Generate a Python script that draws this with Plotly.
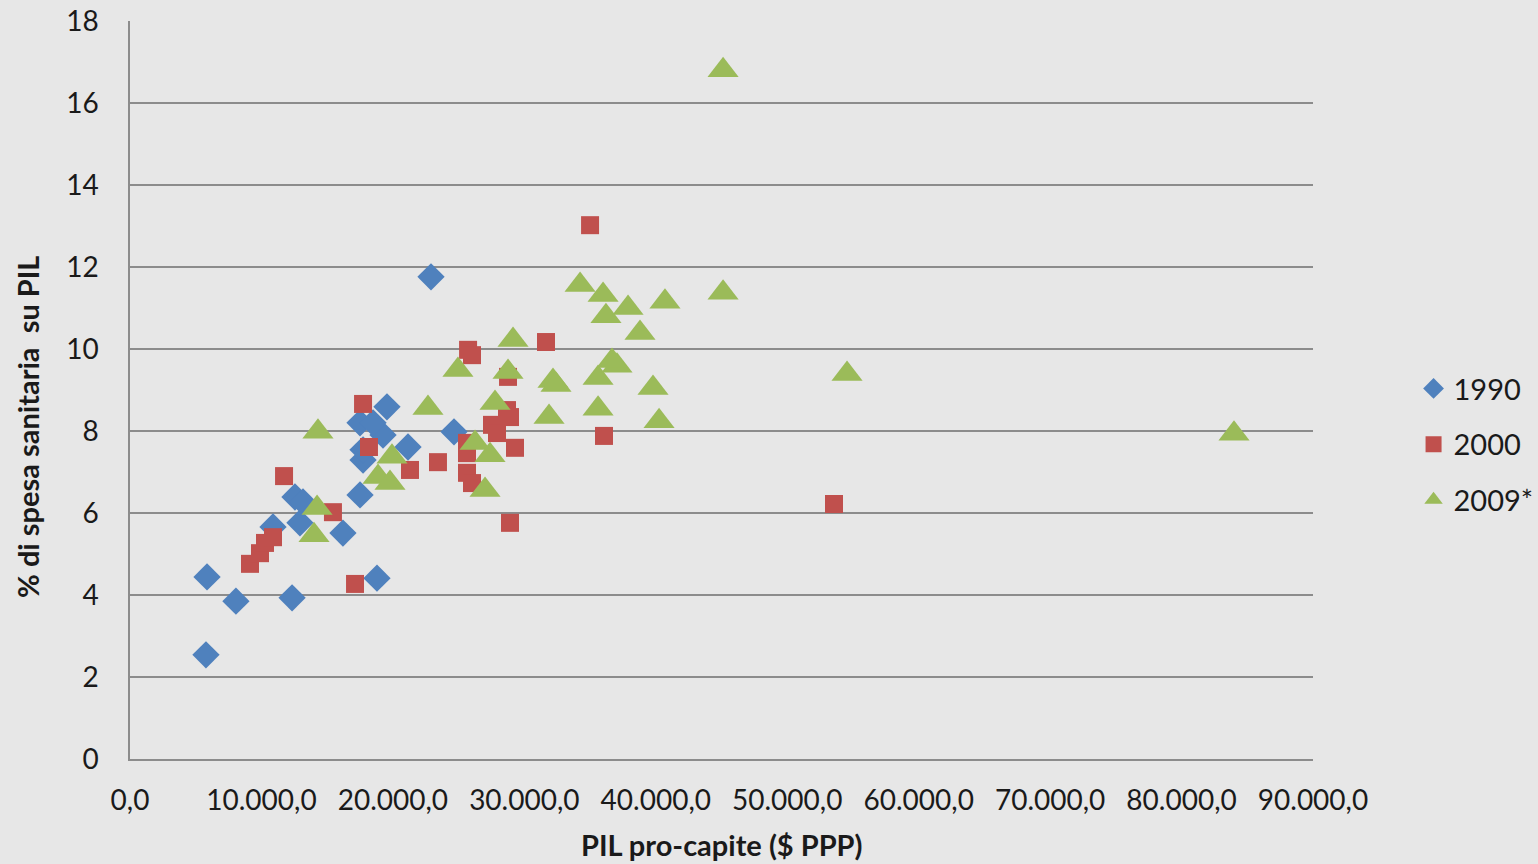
import plotly.graph_objects as go

# 1990
x1990 = [5860, 5780, 8060, 12330, 18790, 10880, 12930, 12550, 13160, 16200,
         17500, 17730, 17730, 21150, 19250, 17500, 18490, 19550, 24650, 22900]
y1990 = [4.44, 2.54, 3.85, 3.93, 4.41, 5.66, 5.76, 6.39, 6.27, 5.51,
         6.44, 7.29, 7.54, 7.61, 7.90, 8.20, 8.20, 8.59, 7.98, 11.76]

# 2000
x2000 = [35000, 31650, 25720, 26020, 28760, 28680, 28910, 27540, 27920, 29290,
         25640, 25640, 23430, 21300, 25640, 26020, 36060, 28910, 53560, 17730,
         18180, 11720, 15440, 17120, 9130, 9890, 10270, 10880]
y2000 = [13.02, 10.17, 9.98, 9.85, 9.32, 8.51, 8.34, 8.15, 7.95, 7.59,
         7.71, 7.46, 7.24, 7.05, 6.98, 6.73, 7.88, 5.76, 6.22, 8.66,
         7.61, 6.90, 6.02, 4.27, 4.76, 5.02, 5.27, 5.41]

# 2009*
x2009 = [45120, 34240, 35990, 36210, 37890, 38800, 40700, 45120, 54550, 83990,
         29140, 24950, 28760, 22670, 32180, 32410, 35610, 37050, 36670, 27770,
         31880, 35610, 39790, 40250, 26250, 27390, 27010, 14300, 19930, 18870,
         19780, 14230, 14000]
y2009 = [16.80, 11.56, 11.32, 10.80, 11.00, 10.39, 11.15, 11.37, 9.39, 7.93,
         10.22, 9.49, 9.44, 8.56, 9.22, 9.12, 9.29, 9.59, 9.71, 8.68,
         8.34, 8.54, 9.05, 8.24, 7.71, 7.41, 6.56, 7.98, 7.37, 6.88,
         6.73, 6.12, 5.46]

xticks = [0, 10000, 20000, 30000, 40000, 50000, 60000, 70000, 80000, 90000]
xticklabels = ["0,0", "10.000,0", "20.000,0", "30.000,0", "40.000,0",
               "50.000,0", "60.000,0", "70.000,0", "80.000,0", "90.000,0"]
yticks = [0, 2, 4, 6, 8, 10, 12, 14, 16, 18]

FONT = "Lato"
BG = "#e7e7e7"
GRID = "#8c8c8c"
TXT = "#1a1a1a"

fig = go.Figure()
fig.add_trace(go.Scatter(x=x1990, y=y1990, mode="markers", name="1990",
                         legendgroup="a",
                         marker=dict(symbol="diamond", size=21, color="#4F81BD")))
fig.add_trace(go.Scatter(x=x2000, y=y2000, mode="markers", name="2000",
                         legendgroup="b",
                         marker=dict(symbol="square", size=18, color="#C0504D")))
fig.add_trace(go.Scatter(x=x2009, y=y2009, mode="markers", name="2009*",
                         legendgroup="c",
                         marker=dict(symbol="triangle-up", size=27, color="#9BBB59")))

fig.update_layout(
    width=1538, height=864,
    margin=dict(l=130, r=225, t=21, b=105, autoexpand=False),
    paper_bgcolor=BG, plot_bgcolor=BG,
    font=dict(family=FONT, size=26, color=TXT),
    showlegend=True,
    legend=dict(x=1.085, xanchor="left", y=0.426, yanchor="middle",
                bgcolor="rgba(0,0,0,0)", tracegroupgap=15,
                font=dict(family=FONT, size=29, color=TXT),
                itemwidth=30),
    xaxis=dict(range=[0, 90000], tickvals=xticks, ticktext=xticklabels,
               showgrid=False, zeroline=False, showline=True,
               linecolor=GRID, linewidth=1.5, ticks="",
               ticklabelstandoff=16,
               tickfont=dict(family=FONT, size=28, color=TXT)),
    yaxis=dict(range=[0, 18], tickvals=yticks,
               showgrid=True, gridcolor=GRID, gridwidth=1.5,
               zeroline=False, showline=True, linecolor=GRID, linewidth=1.5,
               ticks="", ticklabelstandoff=24,
               tickfont=dict(family=FONT, size=28, color=TXT)),
    annotations=[
        dict(text="<b>PIL pro-capite ($ PPP)</b>", xref="paper", yref="paper",
             x=0.5, y=-0.1165, xanchor="center", yanchor="middle",
             showarrow=False, font=dict(family=FONT, size=29, color=TXT)),
        dict(text="<b>% di spesa sanitaria  su PIL</b>", xref="paper", yref="paper",
             x=-0.0862, y=0.45, xanchor="center", yanchor="middle", textangle=-90,
             showarrow=False, font=dict(family=FONT, size=29, color=TXT)),
    ],
)

fig.write_html(
    "out.html",
    config={"displayModeBar": False},
    post_script="document.body.style.margin='0';"
                "document.body.style.overflow='hidden';"
                "document.body.style.background='#e7e7e7';",
)
